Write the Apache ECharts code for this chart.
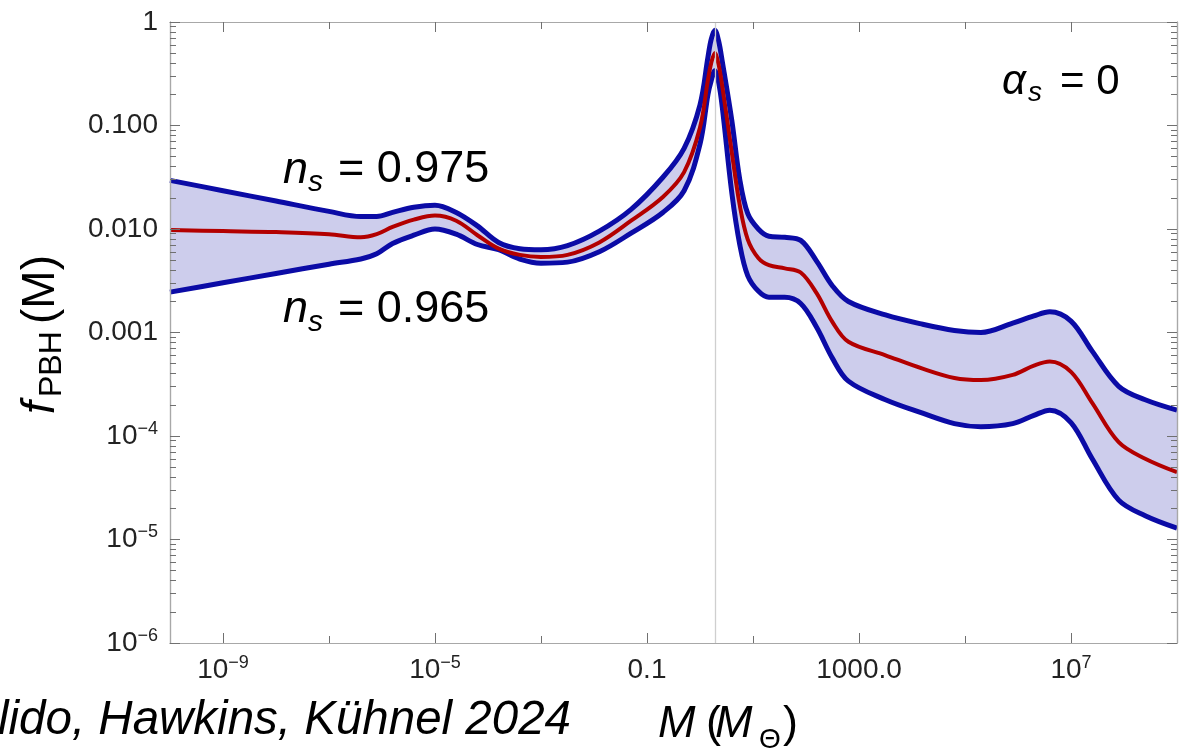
<!DOCTYPE html>
<html>
<head>
<meta charset="utf-8">
<title>f_PBH(M)</title>
<script src="https://cdn.jsdelivr.net/npm/echarts@6/dist/echarts.min.js"></script>
<style>
  html, body { margin: 0; padding: 0; background: #fff; }
  #main { width: 1190px; height: 751px; }
</style>
</head>
<body>
<div id="main"></div>
<script>
// log10 of M (solar masses) where the curves were read
var logMass = [-10, -9, -8, -7, -6.4, -6.1, -5.8, -5.4, -5.0, -4.6, -4.2, -3.8, -3.4, -3.0, -2.5, -1.9, -1.3, -0.7, -0.3, 0.0, 0.15, 0.21, 0.28, 0.35, 0.42, 0.6, 0.75, 0.9, 1.1, 1.3, 1.6, 1.9, 2.2, 2.5, 2.8, 3.5, 4.2, 4.8, 5.3, 5.9, 6.3, 6.6, 7.0, 7.4, 7.9, 8.4, 9.0];
// log10 f_PBH, n_s = 0.975 (upper edge)
var upperLog = [-1.53, -1.63, -1.73, -1.83, -1.88, -1.88, -1.84, -1.79, -1.77, -1.84, -1.97, -2.13, -2.19, -2.20, -2.16, -2.02, -1.81, -1.50, -1.22, -0.80, -0.34, -0.17, -0.08, -0.18, -0.38, -0.95, -1.52, -1.85, -2.00, -2.07, -2.08, -2.11, -2.31, -2.55, -2.70, -2.83, -2.92, -2.98, -3.00, -2.91, -2.84, -2.80, -2.89, -3.18, -3.52, -3.65, -3.75];
// log10 f_PBH, central value
var centralLog = [-2.01, -2.02, -2.03, -2.05, -2.08, -2.05, -1.98, -1.91, -1.87, -1.92, -2.06, -2.19, -2.25, -2.27, -2.25, -2.13, -1.92, -1.69, -1.45, -1.02, -0.56, -0.40, -0.30, -0.41, -0.62, -1.26, -1.77, -2.10, -2.28, -2.35, -2.38, -2.42, -2.62, -2.90, -3.09, -3.22, -3.35, -3.44, -3.46, -3.41, -3.32, -3.28, -3.38, -3.68, -4.06, -4.22, -4.35];
// log10 f_PBH, n_s = 0.965 (lower edge)
var lowerLog = [-2.61, -2.52, -2.43, -2.34, -2.29, -2.24, -2.14, -2.06, -2.00, -2.05, -2.15, -2.20, -2.29, -2.33, -2.32, -2.22, -2.04, -1.84, -1.63, -1.18, -0.70, -0.57, -0.47, -0.58, -0.82, -1.65, -2.15, -2.45, -2.60, -2.66, -2.66, -2.72, -2.95, -3.25, -3.47, -3.65, -3.78, -3.88, -3.91, -3.88, -3.80, -3.75, -3.87, -4.22, -4.62, -4.77, -4.89];

// tick positions as powers of ten
var xLabelTicks = [-9, -5, -1, 3, 7];
var xOtherTicks = [-7, -3, 1, 5];
var yDecades = [-6, -5, -4, -3, -2, -1, 0];
var qcdLogMass = 0.28;

var yMinorTicks = [];
for (var d = -6; d < 0; d++) {
  for (var k = 2; k <= 9; k++) yMinorTicks.push(d + Math.log10(k));
}

function toPoints(arr) {
  return logMass.map(function (x, i) { return [x, arr[i]]; });
}

var FONT = '"Liberation Sans", Arial, Helvetica, sans-serif';
var frameColor = '#a8a8a8';
var tickColor = '#707070';
var blue = '#0b0ba6';
var red = '#b30000';
var band = '#cdcdec';

var richLabel = {
  b: { fontSize: 28, lineHeight: 32, fontFamily: FONT, color: '#222' },
  s: { fontSize: 18, lineHeight: 18, fontFamily: FONT, color: '#222', verticalAlign: 'top' }
};

function power(e) {
  return '{b|10}{s|' + (e < 0 ? '\u2212' + (-e) : e) + '}';
}

function xLabel(v) {
  var e = Math.round(v);
  if (e === -1) return '{b|0.1}';
  if (e === 3) return '{b|1000.0}';
  return power(e);
}

function yLabel(v) {
  var e = Math.round(v);
  if (e === 0) return '{b|1}';
  if (e === -1) return '{b|0.100}';
  if (e === -2) return '{b|0.010}';
  if (e === -3) return '{b|0.001}';
  return power(e);
}

function xAxisDef(pos, ticks, len, withLabels) {
  return {
    type: 'value', min: -10, max: 9, position: pos, z: 10,
    axisLine: { show: true, onZero: false, lineStyle: { color: frameColor, width: 1.2 } },
    axisTick: { show: true, inside: true, length: len, customValues: ticks, lineStyle: { color: tickColor, width: 1 } },
    axisLabel: withLabels ? { show: true, customValues: ticks, margin: 11, formatter: xLabel, rich: richLabel } : { show: false },
    splitLine: { show: false },
    minorTick: { show: false }
  };
}

function yAxisDef(pos, ticks, len, withLabels) {
  return {
    type: 'value', min: -6, max: 0, position: pos, z: 10,
    axisLine: { show: true, onZero: false, lineStyle: { color: frameColor, width: 1.2 } },
    axisTick: { show: true, inside: true, length: len, customValues: ticks, lineStyle: { color: tickColor, width: 1 } },
    axisLabel: withLabels ? { show: true, customValues: ticks, margin: 12, formatter: yLabel, rich: richLabel } : { show: false },
    splitLine: { show: false },
    minorTick: { show: false }
  };
}

// text piece; rot = true turns it to read upwards
function txt(x, y, s, size, italic, align, rot) {
  return {
    type: 'text', x: x, y: y, z: 20, rotation: rot ? Math.PI / 2 : 0,
    style: {
      text: s, fontSize: size, fontFamily: FONT, fontStyle: italic ? 'italic' : 'normal',
      fill: '#000', verticalAlign: 'middle', align: align || 'left'
    }
  };
}

function curve(name, arr, color, width, z) {
  return {
    type: 'line', name: name, data: toPoints(arr), smooth: 0.35, showSymbol: false, z: z,
    lineStyle: { color: color, width: width, join: 'round' }
  };
}

var chart = echarts.init(document.getElementById('main'), null, { renderer: 'canvas' });

var option = {
  backgroundColor: '#ffffff',
  animation: false,
  grid: { left: 170, right: 13, top: 22, bottom: 108 },
  xAxis: [
    xAxisDef('bottom', xLabelTicks, 10, true),
    xAxisDef('bottom', xOtherTicks, 7, false),
    xAxisDef('top', xLabelTicks, 10, false),
    xAxisDef('top', xOtherTicks, 7, false)
  ],
  yAxis: [
    yAxisDef('left', yDecades, 10, true),
    yAxisDef('left', yMinorTicks, 6, false),
    yAxisDef('right', yDecades, 10, false),
    yAxisDef('right', yMinorTicks, 6, false)
  ],
  series: [
    // band: fill under the upper edge, then white under the lower edge
    {
      type: 'line', name: 'bandTop', data: toPoints(upperLog), smooth: 0.35, showSymbol: false, z: 1,
      lineStyle: { width: 0 }, areaStyle: { color: band, opacity: 1, origin: 'start' }, silent: true
    },
    {
      type: 'line', name: 'bandBottom', data: toPoints(lowerLog), smooth: 0.35, showSymbol: false, z: 1,
      lineStyle: { width: 0 }, areaStyle: { color: '#ffffff', opacity: 1, origin: 'start' }, silent: true
    },
    {
      type: 'line', name: 'qcd', data: [], z: 2, silent: true,
      markLine: {
        symbol: 'none', silent: true, label: { show: false },
        lineStyle: { color: '#cfcfcf', width: 1.3, type: 'solid' },
        data: [{ xAxis: qcdLogMass }]
      }
    },
    curve('n_s = 0.975', upperLog, blue, 5, 3),
    curve('n_s = 0.965', lowerLog, blue, 5, 3),
    curve('central', centralLog, red, 4, 4)
  ],
  graphic: [
    // n_s = 0.975
    txt(283, 170, 'n', 45, true),
    txt(308, 182.6, 's', 30, true),
    txt(338, 170, '= 0.975', 45, false),
    // n_s = 0.965
    txt(283, 309.4, 'n', 45, true),
    txt(308, 322.6, 's', 30, true),
    txt(338, 309.4, '= 0.965', 45, false),
    // alpha_s = 0
    txt(1002, 82.4, '\u03b1', 42, true),
    txt(1028, 93.3, 's', 28, true),
    txt(1060, 82.4, '= 0', 42, false),
    // x axis title
    txt(658, 724.4, 'M', 45, true),
    txt(706, 724.4, '(', 45, false),
    txt(715, 724.4, 'M', 45, true),
    txt(759, 740, '\u0398', 28, false),
    txt(783, 724.4, ')', 45, false),
    // citation
    txt(571, 721, 'lido, Hawkins, K\u00fchnel 2024', 47.5, true, 'right'),
    // y axis title, reading upwards
    txt(41, 414, 'f', 46, true, 'left', true),
    txt(52, 397, 'PBH', 32, false, 'left', true),
    txt(41, 324, '(M)', 46, false, 'left', true)
  ]
};

chart.setOption(option);
</script>
</body>
</html>
